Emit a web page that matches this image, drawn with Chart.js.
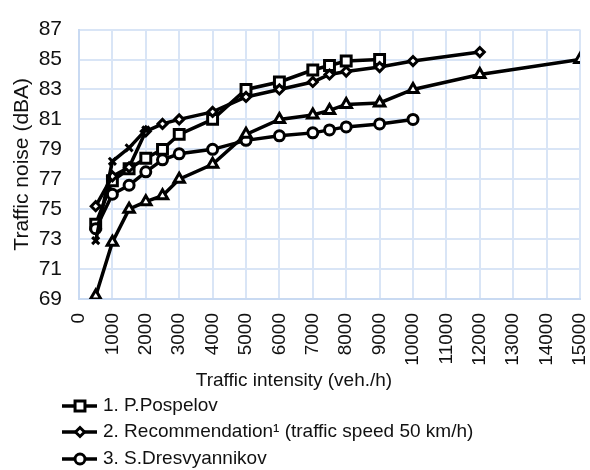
<!DOCTYPE html>
<html>
<head>
<meta charset="utf-8">
<script src="https://cdn.jsdelivr.net/npm/chart.js@4/dist/chart.umd.min.js"></script>
<style>
  html, body { margin: 0; padding: 0; background: #fff; overflow: hidden; }
  #wrap { position: relative; width: 590px; height: 470px; }
</style>
</head>
<body>
<div id="wrap"><canvas id="c"></canvas></div>
<script>
// Traffic intensity (veh./h) and traffic noise (dBA) for each source
const pospelovX = [500, 1000, 1500, 2000, 2500, 3000, 4000, 5000, 6000, 7000, 7500, 8000, 9000];
const pospelovY = [74.0, 76.9, 77.7, 78.4, 79.0, 80.0, 81.0, 83.0, 83.5, 84.3, 84.6, 84.9, 85.0];

const recommendationX = [500, 1000, 1500, 2000, 2500, 3000, 4000, 5000, 6000, 7000, 7500, 8000, 9000, 10000, 12000];
const recommendationY = [75.2, 77.2, 77.8, 80.2, 80.7, 81.0, 81.5, 82.5, 83.0, 83.5, 84.0, 84.2, 84.5, 84.9, 85.5];

const dresvyannikovX = [500, 1000, 1500, 2000, 2500, 3000, 4000, 5000, 6000, 7000, 7500, 8000, 9000, 10000];
const dresvyannikovY = [73.7, 76.0, 76.6, 77.5, 78.3, 78.7, 79.0, 79.6, 79.9, 80.1, 80.3, 80.5, 80.7, 81.0];

const series4X = [500, 1000, 1500, 2000, 2500, 3000, 4000, 5000, 6000, 7000, 7500, 8000, 9000, 10000, 12000, 15000];
const series4Y = [69.2, 72.8, 75.0, 75.5, 75.9, 77.0, 78.0, 80.0, 81.0, 81.3, 81.6, 82.0, 82.1, 83.0, 84.0, 85.0];

const series5X = [500, 1000, 1500, 2000];
const series5Y = [72.9, 78.2, 79.1, 80.3];

const seriesLabels = [
  '1. P.Pospelov',
  '2. Recommendation\u00B9 (traffic speed 50 km/h)',
  '3. S.Dresvyannikov',
  '4.',
  '5.'
];

const xTitle = 'Traffic intensity (veh./h)';
const yTitle = 'Traffic noise (dBA)';

// Axis ranges and ticks
const xMin = 0, xMax = 15000, xStep = 1000;
const yMin = 69, yMax = 87, yStep = 2;

function toPoints(xs, ys) {
  return xs.map((x, i) => ({ x: x, y: ys[i] }));
}

function makeSet(label, xs, ys, style, radius) {
  return {
    label: label,
    data: toPoints(xs, ys),
    borderColor: '#000',
    borderWidth: 3.5,
    pointStyle: style,
    pointRadius: radius,
    pointBorderWidth: 3,
    pointBorderColor: '#000',
    pointBackgroundColor: '#fff',
    fill: false,
    tension: 0
  };
}

const datasets = [
  makeSet(seriesLabels[4], series5X, series5Y, 'crossRot', 5),
  makeSet(seriesLabels[3], series4X, series4Y, 'triangle', 6),
  makeSet(seriesLabels[2], dresvyannikovX, dresvyannikovY, 'circle', 5),
  makeSet(seriesLabels[1], recommendationX, recommendationY, 'rectRot', 4.5),
  makeSet(seriesLabels[0], pospelovX, pospelovY, 'rect', 7)
];

const font = '"Liberation Sans", Arial, sans-serif';

// Horizontal axis title and a legend laid out one entry per row
const captions = {
  id: 'captions',
  afterDraw(chart) {
    const ctx = chart.ctx;
    ctx.save();
    ctx.fillStyle = '#111';
    ctx.font = '19px ' + font;
    ctx.textAlign = 'center';
    ctx.textBaseline = 'middle';
    ctx.fillText(xTitle, 294, 381);

    const shown = [seriesLabels[0], seriesLabels[1], seriesLabels[2]];
    const rowY = [406, 432, 459];
    shown.forEach((lab, i) => {
      const ds = chart.data.datasets.find(d => d.label === lab);
      const y = rowY[i];
      ctx.strokeStyle = '#000';
      ctx.lineWidth = 3.5;
      ctx.beginPath();
      ctx.moveTo(62, y);
      ctx.lineTo(97, y);
      ctx.stroke();
      ctx.fillStyle = '#fff';
      ctx.lineWidth = 3;
      Chart.helpers.drawPoint(ctx, {
        pointStyle: ds.pointStyle,
        radius: ds.pointRadius,
        rotation: 0,
        borderWidth: 3
      }, 80, y);
      ctx.fillStyle = '#111';
      ctx.font = '19px ' + font;
      ctx.textBaseline = 'middle';
      ctx.textAlign = 'left';
      ctx.fillText(lab, 103, y);
    });
    ctx.restore();
  }
};

const gridColor = '#d9e5f6';

new Chart(document.getElementById('c'), {
  type: 'line',
  data: { datasets: datasets },
  plugins: [captions],
  options: {
    responsive: true,
    maintainAspectRatio: false,
    animation: false,
    layout: { padding: { left: 0, right: 9, top: 21, bottom: 76 } },
    plugins: {
      legend: { display: false },
      tooltip: { enabled: false }
    },
    scales: {
      x: {
        type: 'linear',
        min: xMin,
        max: xMax,
        afterFit(scale) {
          scale.height = 95;
          scale.paddingLeft = 0;
          scale.paddingRight = 0;
        },
        ticks: {
          stepSize: xStep,
          autoSkip: false,
          minRotation: 90,
          maxRotation: 90,
          padding: 14,
          color: '#111',
          font: { family: font, size: 19 },
          callback: (v) => String(v)
        },
        grid: { color: gridColor, lineWidth: 2, drawTicks: false },
        border: { color: '#c9daf2', width: 2 }
      },
      y: {
        min: yMin,
        max: yMax,
        afterFit(scale) { scale.width = 79; },
        ticks: {
          stepSize: yStep,
          padding: 17,
          color: '#111',
          font: { family: font, size: 21 }
        },
        grid: { color: gridColor, lineWidth: 2, drawTicks: false },
        border: { color: '#c9daf2', width: 2 },
        title: {
          display: true,
          text: yTitle,
          color: '#111',
          padding: { top: 10, bottom: 0 },
          font: { family: font, size: 21 }
        }
      }
    }
  }
});
</script>
</body>
</html>
